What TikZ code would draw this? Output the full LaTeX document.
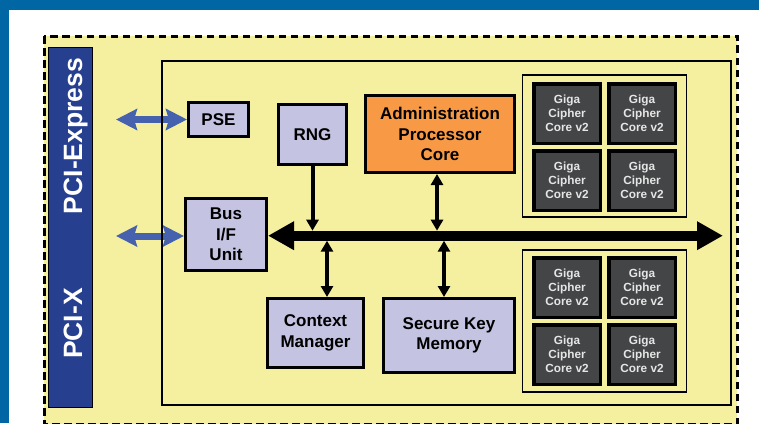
\documentclass[tikz,border=0pt]{standalone}
\usepackage{fontspec}
\setmainfont{Liberation Sans}
\usetikzlibrary{arrows.meta}
\definecolor{frameblue}{HTML}{0066A4}
\definecolor{chipyellow}{HTML}{F4F0A0}
\definecolor{lav}{HTML}{C4C3E1}
\definecolor{adminorange}{HTML}{F89A45}
\definecolor{barblue}{HTML}{273F8F}
\definecolor{arrowblue}{HTML}{4662AE}
\definecolor{cellgray}{HTML}{434547}
\definecolor{celltext}{HTML}{E6E6E6}
\newcommand\mainfnt{\fontsize{17}{20.5}\selectfont\bfseries}
\newcommand\cellfnt{\fontsize{11.8}{14}\selectfont\bfseries}
\newcommand\pcifnt{\fontsize{26.5}{30}\selectfont\bfseries}
\tikzset{
  stip/.tip={Triangle[length=11pt,width=12pt]},
  btip/.tip={Triangle[length=26pt,width=27pt]},
  bluetip/.tip={Stealth[length=21pt,width=21pt,inset=3pt]},
  lbox/.style={draw=black, line width=3pt, fill=lav, align=center, font=\mainfnt, inner sep=0pt},
  abox/.style={lbox, fill=adminorange},
  gcell/.style={draw=black, line width=3.5pt, fill=cellgray, text=celltext, align=center, font=\cellfnt,
    minimum width=66.5pt, minimum height=59.5pt, inner sep=0pt},
  ggroup/.style={draw=black, line width=1.2pt},
  sarrow/.style={line width=4pt, draw=black},
  bluearrow/.style={line width=7pt, draw=arrowblue, bluetip-bluetip},
  busline/.style={line width=10pt, draw=black, btip-btip},
  pcitext/.style={rotate=90, anchor=base, text=white, font=\pcifnt, inner sep=0pt},
}
\begin{document}
\begin{tikzpicture}[x=1pt,y=-1pt]
\useasboundingbox (0,0) rectangle (759,423);
% frame
\fill[frameblue] (0,0) rectangle (759,423);
\fill[white] (9,10) rectangle (759,423);
% dashed chip outline
\draw[fill=chipyellow, line width=3pt, dash pattern=on 7.5pt off 4.5pt] (44,36) rectangle (737,424);
% blue bar
\draw[fill=barblue, draw=black, line width=1pt] (48,47) rectangle (92,407);
\node[pcitext] (pcie) at (82,136) {PCI-Express};
\node[pcitext] (pcix) at (82,323.5) {PCI-X};
% boxes
\node[lbox, minimum width=60pt, minimum height=34pt] (PSE) at (218.5,119.5) {PSE};
\node[lbox, minimum width=68pt, minimum height=60pt] (RNG) at (312.5,134.5) {RNG};
\node[abox, minimum width=149pt, minimum height=77pt] (ADM) at (440,134) {Administration\\Processor\\Core};
\node[lbox, minimum width=81pt, minimum height=72pt] (BIF) at (226,234.5) {Bus\\I/F\\Unit};
\node[lbox, minimum width=96pt, minimum height=69pt] (CM) at (315.5,333) {Context\\Manager};
\node[lbox, minimum width=131pt, minimum height=74pt] (SKM) at (449,335.5) {Secure Key\\Memory};
% blue arrows
\coordinate (pseL) at (116,119.5);
\coordinate (bifL) at (116,236);
\draw[bluearrow] (pseL) -- (PSE.west);
\draw[bluearrow] (bifL) -- (BIF.west |- bifL);
% inner rectangle
\draw[line width=1.5pt] (162,61) rectangle (731,405);
% giga groups
\draw[ggroup] (522.5,75) rectangle (686.5,217);
\node[gcell] (g1) at (567,113.5) {Giga\\Cipher\\Core v2};
\node[gcell] (g2) at (642,113.5) {Giga\\Cipher\\Core v2};
\node[gcell] (g3) at (567,180.5) {Giga\\Cipher\\Core v2};
\node[gcell] (g4) at (642,180.5) {Giga\\Cipher\\Core v2};
\draw[ggroup] (522.5,250) rectangle (686.5,392);
\node[gcell] (g5) at (567,287.5) {Giga\\Cipher\\Core v2};
\node[gcell] (g6) at (642,287.5) {Giga\\Cipher\\Core v2};
\node[gcell] (g7) at (567,354.5) {Giga\\Cipher\\Core v2};
\node[gcell] (g8) at (642,354.5) {Giga\\Cipher\\Core v2};
% bus
\coordinate (busR) at (723,235.7);
\coordinate (bustop) at (0,230.7);
\coordinate (busbot) at (0,240.7);
\draw[busline] (BIF.east |- busR) -- (busR);
% small arrows
\draw[sarrow, -stip] (RNG.south) -- (RNG.south |- bustop);
\draw[sarrow, stip-stip] ([xshift=-3pt]ADM.south) -- ([xshift=-3pt]ADM.south |- bustop);
\draw[sarrow, stip-stip] ([xshift=11.5pt]CM.north |- busbot) -- ([xshift=11.5pt]CM.north);
\draw[sarrow, stip-stip] ([xshift=-5pt]SKM.north |- busbot) -- ([xshift=-5pt]SKM.north);
\end{tikzpicture}
\end{document}
